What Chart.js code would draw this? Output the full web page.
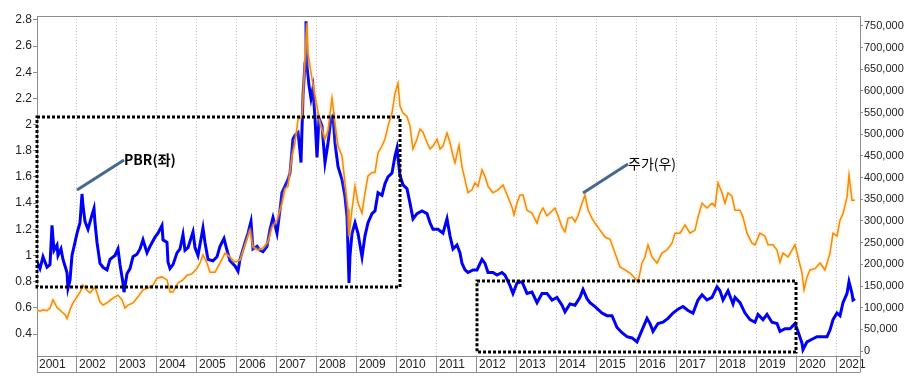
<!DOCTYPE html>
<html>
<head>
<meta charset="utf-8">
<script src="https://cdn.jsdelivr.net/npm/chart.js@4.4.0/dist/chart.umd.min.js"></script>
<style>
html, body { margin: 0; padding: 0; background: #fff; }
</style>
</head>
<body>
<canvas id="pbrChart" width="915" height="389"></canvas>
<script>
(function pbrChart () {
    'use strict';

    var years = [2001, 2002, 2003, 2004, 2005, 2006, 2007, 2008, 2009, 2010, 2011,
        2012, 2013, 2014, 2015, 2016, 2017, 2018, 2019, 2020, 2021];
    var leftTicks = [0.4, 0.6, 0.8, 1, 1.2, 1.4, 1.6, 1.8, 2, 2.2, 2.4, 2.6, 2.8];
    var rightTicks = [0, 50000, 100000, 150000, 200000, 250000, 300000, 350000, 400000,
        450000, 500000, 550000, 600000, 650000, 700000, 750000];

    // PBR (left axis), dates as decimal years
    var pbrDates = [
        2001.000, 2001.075, 2001.150, 2001.250, 2001.325, 2001.375, 2001.425, 2001.500, 2001.525, 2001.600, 2001.650, 2001.750, 2001.775, 2001.825, 2001.875, 2001.950,
        2002.000, 2002.075, 2002.125, 2002.150, 2002.200, 2002.275, 2002.375, 2002.425, 2002.450, 2002.500, 2002.575, 2002.650, 2002.750, 2002.825, 2002.950,
        2003.025, 2003.075, 2003.150, 2003.175, 2003.250, 2003.325, 2003.400, 2003.500, 2003.575, 2003.650, 2003.750, 2003.825, 2003.950,
        2004.025, 2004.125, 2004.150, 2004.250, 2004.275, 2004.325, 2004.400, 2004.500, 2004.575, 2004.650, 2004.700, 2004.775, 2004.900, 2004.950,
        2005.025, 2005.150, 2005.200, 2005.275, 2005.400, 2005.500, 2005.575, 2005.675, 2005.750, 2005.825, 2005.950,
        2006.025, 2006.075, 2006.200, 2006.275, 2006.350, 2006.400, 2006.500, 2006.575, 2006.650, 2006.750, 2006.825, 2006.900,
        2007.000, 2007.075, 2007.125, 2007.200, 2007.275, 2007.325, 2007.400, 2007.450, 2007.525, 2007.575, 2007.600, 2007.650, 2007.700, 2007.725, 2007.750, 2007.800, 2007.850, 2007.900, 2007.950,
        2008.000, 2008.050, 2008.125, 2008.200, 2008.275, 2008.350, 2008.400, 2008.450, 2008.525, 2008.625, 2008.700, 2008.750, 2008.775, 2008.800, 2008.825, 2008.875, 2008.950,
        2009.025, 2009.125, 2009.200, 2009.275, 2009.375, 2009.450, 2009.525, 2009.625, 2009.700, 2009.775, 2009.875, 2009.950,
        2010.000, 2010.075, 2010.150, 2010.250, 2010.325, 2010.400, 2010.500, 2010.625, 2010.750, 2010.825, 2010.900,
        2011.025, 2011.150, 2011.250, 2011.325, 2011.400, 2011.500, 2011.575, 2011.625, 2011.700, 2011.775, 2011.900,
        2012.000, 2012.125, 2012.200, 2012.275, 2012.400, 2012.500, 2012.625, 2012.700, 2012.825, 2012.900,
        2013.000, 2013.125, 2013.250, 2013.375, 2013.500, 2013.625, 2013.750, 2013.875,
        2014.000, 2014.125, 2014.200, 2014.325, 2014.450, 2014.575, 2014.650, 2014.750, 2014.825, 2014.950,
        2015.125, 2015.250, 2015.375, 2015.500, 2015.625, 2015.750, 2015.875,
        2016.000, 2016.125, 2016.250, 2016.325, 2016.400, 2016.525, 2016.650, 2016.775, 2016.900,
        2017.025, 2017.150, 2017.275, 2017.400, 2017.525, 2017.625, 2017.750, 2017.875,
        2018.000, 2018.075, 2018.150, 2018.275, 2018.400, 2018.450, 2018.575, 2018.700, 2018.825, 2018.950,
        2019.025, 2019.150, 2019.250, 2019.375, 2019.500, 2019.575, 2019.700, 2019.825, 2019.950,
        2020.025, 2020.125, 2020.150, 2020.250, 2020.375, 2020.500, 2020.625, 2020.750, 2020.825, 2020.900,
        2021.000, 2021.075, 2021.150, 2021.250, 2021.300, 2021.375, 2021.400, 2021.450
    ];
    var pbrValues = [
        0.95, 0.90, 0.99, 0.91, 0.93, 1.23, 1.04, 1.08, 1.00, 1.05, 0.97, 0.87, 0.75, 0.81, 1.00, 1.10,
        1.17, 1.25, 1.47, 1.38, 1.26, 1.20, 1.31, 1.36, 1.25, 1.10, 0.94, 0.91, 0.89, 0.97, 1.00,
        1.05, 0.93, 0.79, 0.72, 0.86, 0.90, 0.99, 1.01, 1.05, 1.12, 1.02, 1.07, 1.14,
        1.17, 1.23, 1.12, 1.10, 0.95, 0.90, 0.93, 1.02, 1.05, 1.16, 1.04, 1.06, 1.18, 1.06,
        1.00, 1.21, 1.10, 0.97, 0.96, 0.99, 1.07, 1.13, 1.04, 0.96, 0.92,
        0.88, 0.97, 1.10, 1.17, 1.26, 1.05, 1.07, 1.04, 1.03, 1.07, 1.20, 1.29,
        1.17, 1.35, 1.48, 1.53, 1.58, 1.63, 1.89, 1.92, 1.94, 1.80, 1.71, 2.22, 2.47, 2.79, 2.45, 2.30, 2.20, 2.28, 2.05,
        1.75, 2.05, 1.99, 1.71, 1.86, 2.05, 2.07, 1.86, 1.68, 1.58, 1.45, 1.30, 1.05, 0.79, 1.00, 1.17, 1.25,
        1.17, 0.99, 1.15, 1.25, 1.32, 1.34, 1.48, 1.46, 1.55, 1.60, 1.63, 1.76,
        1.82, 1.61, 1.54, 1.51, 1.40, 1.28, 1.32, 1.34, 1.32, 1.25, 1.20,
        1.20, 1.17, 1.28, 1.15, 1.05, 1.08, 1.02, 0.94, 0.89, 0.87, 0.89,
        0.89, 0.97, 0.94, 0.87, 0.87, 0.85, 0.87, 0.85, 0.77, 0.71,
        0.79, 0.80, 0.71, 0.72, 0.64, 0.71, 0.71, 0.66,
        0.68, 0.62, 0.57, 0.63, 0.62, 0.68, 0.74, 0.67, 0.64, 0.61,
        0.56, 0.54, 0.54, 0.45, 0.41, 0.38, 0.37,
        0.34, 0.43, 0.52, 0.48, 0.42, 0.48, 0.49, 0.52, 0.56,
        0.59, 0.61, 0.58, 0.56, 0.66, 0.70, 0.66, 0.68,
        0.76, 0.73, 0.66, 0.73, 0.63, 0.68, 0.64, 0.56, 0.51, 0.49,
        0.55, 0.51, 0.55, 0.49, 0.48, 0.42, 0.44, 0.44, 0.48,
        0.42, 0.33, 0.28, 0.34, 0.36, 0.38, 0.38, 0.38, 0.43, 0.51,
        0.56, 0.54, 0.64, 0.71, 0.80, 0.71, 0.66, 0.67
    ];

    // share price in won (right axis)
    var priceDates = [
        2001.000, 2001.075, 2001.150, 2001.250, 2001.325, 2001.400, 2001.500, 2001.625, 2001.700, 2001.750, 2001.825, 2001.900,
        2002.000, 2002.075, 2002.150, 2002.250, 2002.325, 2002.450, 2002.575, 2002.650, 2002.775, 2002.900,
        2003.025, 2003.125, 2003.200, 2003.275, 2003.400, 2003.525, 2003.650, 2003.775, 2003.900,
        2004.000, 2004.125, 2004.250, 2004.325, 2004.400, 2004.525, 2004.650, 2004.750, 2004.875,
        2005.000, 2005.075, 2005.150, 2005.250, 2005.325, 2005.450, 2005.575, 2005.700, 2005.825, 2005.950,
        2006.075, 2006.200, 2006.325, 2006.400, 2006.525, 2006.650, 2006.775, 2006.875,
        2007.000, 2007.125, 2007.200, 2007.275, 2007.375, 2007.450, 2007.525, 2007.625, 2007.700, 2007.750, 2007.775, 2007.875, 2007.950,
        2008.075, 2008.200, 2008.275, 2008.375, 2008.450, 2008.525, 2008.625, 2008.700, 2008.775, 2008.800, 2008.875, 2008.950,
        2009.025, 2009.125, 2009.200, 2009.275, 2009.375, 2009.450, 2009.525, 2009.625, 2009.700, 2009.775, 2009.875, 2009.950,
        2010.025, 2010.075, 2010.150, 2010.250, 2010.325, 2010.400, 2010.500, 2010.575, 2010.650, 2010.750, 2010.825, 2010.900,
        2011.000, 2011.075, 2011.150, 2011.250, 2011.325, 2011.400, 2011.450, 2011.550, 2011.625, 2011.700, 2011.775, 2011.875, 2011.950,
        2012.025, 2012.125, 2012.200, 2012.275, 2012.400, 2012.525, 2012.650, 2012.775, 2012.875, 2012.925,
        2013.000, 2013.075, 2013.150, 2013.250, 2013.375, 2013.500, 2013.575, 2013.650, 2013.750, 2013.875, 2013.950,
        2014.025, 2014.125, 2014.200, 2014.275, 2014.375, 2014.450, 2014.525, 2014.625, 2014.700, 2014.775, 2014.875, 2014.950,
        2015.075, 2015.200, 2015.325, 2015.450, 2015.575, 2015.700, 2015.825, 2015.950,
        2016.025, 2016.125, 2016.200, 2016.275, 2016.375, 2016.500, 2016.625, 2016.750, 2016.875, 2016.950,
        2017.075, 2017.200, 2017.325, 2017.450, 2017.525, 2017.625, 2017.750, 2017.875, 2017.950,
        2018.025, 2018.125, 2018.200, 2018.275, 2018.375, 2018.450, 2018.575, 2018.650, 2018.750, 2018.875, 2018.950,
        2019.075, 2019.200, 2019.275, 2019.400, 2019.500, 2019.575, 2019.650, 2019.775, 2019.875, 2019.950,
        2020.025, 2020.125, 2020.175, 2020.250, 2020.325, 2020.450, 2020.575, 2020.700, 2020.825, 2020.900,
        2021.000, 2021.075, 2021.150, 2021.250, 2021.300, 2021.375, 2021.450
    ];
    var priceValues = [
        95000, 92000, 95000, 93000, 99000, 118000, 101000, 90000, 84000, 75000, 95000, 111000,
        125000, 136000, 152000, 140000, 134000, 148000, 113000, 106000, 113000, 122000,
        129000, 118000, 99000, 106000, 111000, 125000, 141000, 145000, 152000,
        168000, 171000, 164000, 136000, 136000, 157000, 164000, 175000, 178000,
        191000, 203000, 222000, 203000, 182000, 182000, 203000, 226000, 217000, 205000,
        210000, 245000, 279000, 240000, 233000, 238000, 252000, 286000,
        302000, 341000, 374000, 380000, 450000, 480000, 535000, 540000, 674000, 757000, 688000, 628000, 590000,
        526000, 489000, 510000, 584000, 526000, 473000, 450000, 388000, 327000, 265000, 327000, 381000,
        342000, 318000, 365000, 404000, 412000, 412000, 457000, 473000, 489000, 519000, 549000, 595000,
        618000, 565000, 549000, 541000, 519000, 466000, 489000, 512000, 505000, 481000, 466000, 473000,
        489000, 466000, 473000, 503000, 481000, 450000, 434000, 475000, 425000, 395000, 365000, 372000, 388000,
        380000, 418000, 403000, 380000, 365000, 372000, 383000, 355000, 332000, 314000,
        342000, 360000, 360000, 325000, 318000, 295000, 318000, 330000, 312000, 323000, 330000,
        312000, 286000, 275000, 306000, 309000, 298000, 312000, 341000, 360000, 326000, 306000, 295000,
        279000, 263000, 258000, 226000, 194000, 187000, 180000, 168000,
        159000, 203000, 217000, 245000, 217000, 203000, 226000, 233000, 249000, 272000,
        272000, 291000, 272000, 279000, 309000, 341000, 330000, 341000, 334000,
        388000, 365000, 341000, 365000, 357000, 325000, 325000, 309000, 272000, 249000, 245000,
        272000, 265000, 245000, 245000, 233000, 205000, 226000, 217000, 233000, 245000,
        217000, 180000, 141000, 171000, 187000, 190000, 203000, 187000, 226000, 272000,
        265000, 302000, 317000, 355000, 406000, 348000, 348000
    ];

    // dotted boxes: [fromYear, fromPbr, toYear, toPbr]
    var boxes = [
        [2001.0, 0.759, 2010.075, 2.058],
        [2012.0, 0.262, 2019.975, 0.805]
    ];
    // callouts: [axis, fromYear, fromValue, toYear, toValue, text, bold]
    var callouts = [
        ['y', 2002.0, 1.50, 2003.175, 1.73, 'PBR(좌)', true],
        ['y1', 2014.65, 364500, 2015.775, 431500, '주가(우)', false]
    ];

    function toPoints (xs, ys) {
        return xs.map(function (x, i) { return {x: x, y: ys[i]}; });
    }

    var frameColor = '#8c8c8c';
    var labelColor = '#222';

    var decorations = {
        id: 'decorations',
        beforeDatasetDraw: function (chart, args) {
            if (args.meta.yAxisID === 'y1') {
                chart.ctx.save();
                chart.ctx.shadowColor = 'rgba(255, 214, 110, 0.9)';
                chart.ctx.shadowBlur = 3;
            }
        },
        afterDatasetDraw: function (chart, args) {
            if (args.meta.yAxisID === 'y1') {
                chart.ctx.restore();
            }
        },
        afterDraw: function (chart) {
            var ctx = chart.ctx;
            var a = chart.chartArea;
            var sx = chart.scales.x;
            ctx.save();
            ctx.strokeStyle = frameColor;
            ctx.lineWidth = 1;
            ctx.beginPath();
            ctx.moveTo(a.left, a.top + 0.5);
            ctx.lineTo(a.right, a.top + 0.5);
            ctx.moveTo(a.left, a.bottom + 16.5);
            ctx.lineTo(a.right, a.bottom + 16.5);
            ctx.moveTo(a.right + 0.5, a.bottom);
            ctx.lineTo(a.right + 0.5, a.bottom + 16.5);
            ctx.stroke();

            ctx.strokeStyle = '#000';
            ctx.lineWidth = 3;
            ctx.setLineDash([3, 2]);
            boxes.forEach(function (b) {
                var sy = chart.scales.y;
                var x0 = sx.getPixelForValue(b[0]);
                var x1 = sx.getPixelForValue(b[2]);
                var y0 = sy.getPixelForValue(b[1]);
                var y1 = sy.getPixelForValue(b[3]);
                ctx.strokeRect(x0, y1, x1 - x0, y0 - y1);
            });
            ctx.setLineDash([]);

            callouts.forEach(function (c) {
                var sy = chart.scales[c[0]];
                var x0 = sx.getPixelForValue(c[1]);
                var y0 = sy.getPixelForValue(c[2]);
                var x1 = sx.getPixelForValue(c[3]);
                var y1 = sy.getPixelForValue(c[4]);
                ctx.strokeStyle = '#46698e';
                ctx.lineWidth = 3;
                ctx.beginPath();
                ctx.moveTo(x0, y0);
                ctx.lineTo(x1, y1);
                ctx.stroke();
                ctx.fillStyle = '#000';
                ctx.font = (c[6] ? 'bold ' : '') + '14px "Noto Sans CJK KR", "Liberation Sans", sans-serif';
                ctx.textAlign = 'left';
                ctx.textBaseline = 'middle';
                ctx.fillText(c[5], x1, y1);
            });
            ctx.restore();
        }
    };

    var ctx = document.getElementById('pbrChart').getContext('2d');

    new Chart(ctx, {
        type: 'line',
        data: {
            datasets: [{
                label: 'PBR(좌)',
                data: toPoints(pbrDates, pbrValues),
                yAxisID: 'y',
                borderColor: '#0000f5',
                borderWidth: 3,
                pointRadius: 0,
                tension: 0,
                order: 1
            }, {
                label: '주가(우)',
                data: toPoints(priceDates, priceValues),
                yAxisID: 'y1',
                borderColor: '#f28a14',
                borderWidth: 1.5,
                pointRadius: 0,
                tension: 0,
                order: 0
            }]
        },
        options: {
            responsive: false,
            animation: false,
            parsing: false,
            layout: {padding: {top: 16, left: 0, right: 0, bottom: 0}},
            plugins: {
                legend: {display: false},
                tooltip: {enabled: false}
            },
            scales: {
                x: {
                    type: 'linear',
                    min: 2001,
                    max: 2021.575,
                    afterBuildTicks: function (scale) {
                        scale.ticks = years.map(function (v) { return {value: v}; });
                    },
                    afterFit: function (scale) { scale.height = 33; },
                    ticks: {
                        align: 'start',
                        labelOffset: 2,
                        padding: -15,
                        autoSkip: false,
                        maxRotation: 0,
                        color: labelColor,
                        font: {family: '"Liberation Sans", Arial, sans-serif', size: 12},
                        callback: function (v) { return String(v); }
                    },
                    grid: {
                        color: '#c8c8c8',
                        lineWidth: 1,
                        drawTicks: true,
                        tickLength: 16,
                        tickColor: frameColor,
                        tickWidth: 1
                    },
                    border: {display: true, color: frameColor, width: 1, dash: [1, 2]}
                },
                y: {
                    position: 'left',
                    min: 0.232,
                    max: 2.83,
                    afterBuildTicks: function (scale) {
                        scale.ticks = leftTicks.map(function (v) { return {value: v}; });
                    },
                    afterFit: function (scale) { scale.width = 37; },
                    ticks: {
                        padding: 1,
                        color: labelColor,
                        font: {family: '"Liberation Sans", Arial, sans-serif', size: 12},
                        callback: function (v) { return String(Math.round(v * 10) / 10); }
                    },
                    grid: {drawOnChartArea: false, drawTicks: true, tickLength: 4, color: frameColor},
                    border: {display: true, color: frameColor, width: 1}
                },
                y1: {
                    position: 'right',
                    min: -11500,
                    max: 773000,
                    afterBuildTicks: function (scale) {
                        scale.ticks = rightTicks.map(function (v) { return {value: v}; });
                    },
                    afterFit: function (scale) { scale.width = 55; },
                    ticks: {
                        padding: 1,
                        color: labelColor,
                        font: {family: '"Liberation Sans", Arial, sans-serif', size: 11},
                        callback: function (v) { return v.toLocaleString('en-US'); }
                    },
                    grid: {drawOnChartArea: false, drawTicks: true, tickLength: 3, color: frameColor},
                    border: {display: true, color: frameColor, width: 1}
                }
            }
        },
        plugins: [decorations]
    });
}());
</script>
</body>
</html>
